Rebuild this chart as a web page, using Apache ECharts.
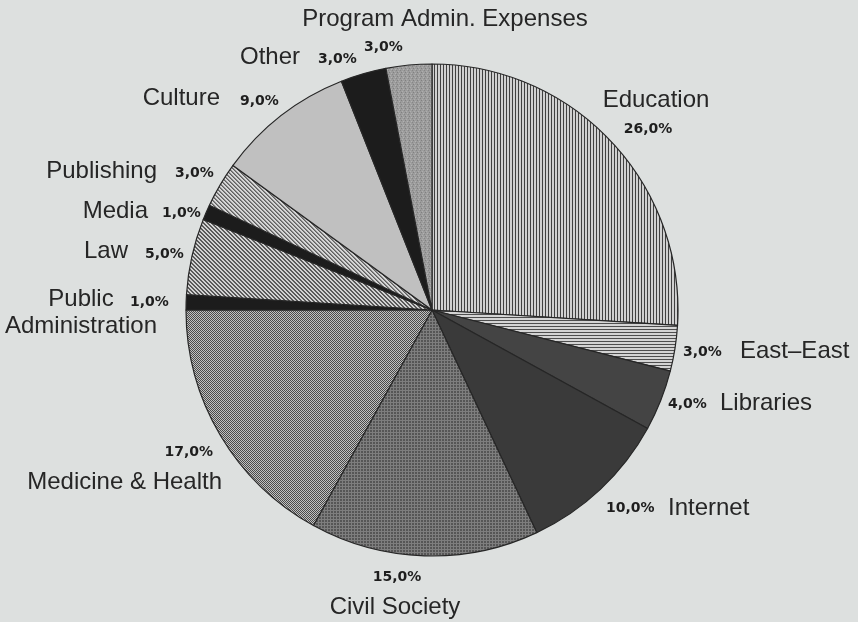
<!DOCTYPE html>
<html>
<head>
<meta charset="utf-8">
<script src="https://cdn.jsdelivr.net/npm/echarts@6/dist/echarts.min.js"></script>
<style>
html,body{margin:0;padding:0;background:#dde0df;}
#chart{width:858px;height:622px;}
</style>
</head>
<body>
<div id="chart"></div>
<script>
// ---- data ----
const categories = ['Education','East\u2013East','Libraries','Internet','Civil Society','Medicine & Health','Public\nAdministration','Law','Media','Publishing','Culture','Other','Program Admin. Expenses'];
const shares = [26, 3, 4, 10, 15, 17, 1, 5, 1, 3, 9, 3, 3];

// ---- styles ----
function pat(w, h, bg, draw) {
  const c = document.createElement('canvas');
  c.width = w; c.height = h;
  const g = c.getContext('2d');
  g.fillStyle = bg; g.fillRect(0, 0, w, h);
  draw(g);
  return { image: c, repeat: 'repeat' };
}
function px(g, col, x, y, w, h) { g.fillStyle = col; g.fillRect(x, y, w || 1, h || 1); }

const fills = [
  pat(3, 1, '#d0d0d0', g => px(g, '#404040', 2, 0)),                       // Education vertical lines
  pat(1, 3, '#d4d4d4', g => px(g, '#4e4e4e', 0, 2)),                       // East-East horizontal
  '#444444',                                                                // Libraries
  '#3a3a3a',                                                                // Internet
  pat(3, 3, '#565656', g => { px(g, '#7e7e7e', 0, 0, 3, 1); px(g, '#7e7e7e', 0, 0, 1, 3); }), // Civil Society grid
  pat(2, 2, '#c0c0c0', g => { px(g, '#4a4a4a', 0, 0); px(g, '#4a4a4a', 1, 1); }),            // Medicine dots
  '#1c1c1c',                                                                // Public admin
  pat(4, 4, '#d2d2d2', g => { for (let y = 0; y < 4; y++) { px(g, '#5a5a5a', y % 4, y); px(g, '#5a5a5a', (y + 1) % 4, y); } }), // Law
  '#1c1c1c',                                                                // Media
  pat(4, 4, '#d6d6d6', g => { for (let y = 0; y < 4; y++) { px(g, '#606060', y % 4, y); px(g, '#8a8a8a', (y + 1) % 4, y); } }), // Publishing
  '#c0c0c0',                                                                // Culture
  '#1c1c1c',                                                                // Other
  pat(4, 4, '#9c9c9c', g => { px(g, '#808080', 1, 0); px(g, '#b2b2b2', 3, 1); px(g, '#868686', 0, 2); px(g, '#aeaeae', 2, 3); }) // Program admin
];

// label anchors [x, y, align]
const namePos = [
  [656, 100, 'center'], [740, 351, 'left'], [720, 403, 'left'], [668, 508, 'left'],
  [395, 607, 'center'], [222, 482, 'right'], [81, 313, 'center'], [128, 251, 'right'],
  [148, 211, 'right'], [157, 171, 'right'], [220, 98, 'right'], [300, 57, 'right'],
  [445, 19, 'center']
];
const pctPos = [
  [648, 129, 'center'], [683, 352, 'left'], [668, 404, 'left'], [606, 508, 'left'],
  [397, 577, 'center'], [213, 452, 'right'], [130, 302, 'left'], [145, 254, 'left'],
  [162, 213, 'left'], [175, 173, 'left'], [240, 101, 'left'], [318, 59, 'left'],
  [364, 47, 'left']
];

const fmtPct = v => v.toFixed(1).replace('.', ',') + '%';

const chart = echarts.init(document.getElementById('chart'), null, { renderer: 'canvas' });

const pieBase = {
  type: 'pie',
  center: [432, 310],
  radius: 246,
  startAngle: 90,
  clockwise: true,
  animation: false,
  labelLine: { show: false },
  emphasis: { disabled: true }
};

chart.setOption({
  backgroundColor: '#dde0df',
  series: [
    Object.assign({}, pieBase, {
      name: 'slices',
      data: categories.map((c, i) => ({ name: c, value: shares[i], itemStyle: { color: fills[i] } })),
      itemStyle: { borderColor: '#262626', borderWidth: 1.2 },
      label: {
        show: true, position: 'outside', overflow: 'none',
        formatter: p => fmtPct(p.value),
        fontFamily: 'DejaVu Sans', fontWeight: 'bold', fontSize: 14, color: '#1e1e1e'
      },
      labelLayout: p => { const q = pctPos[p.dataIndex]; return { x: q[0], y: q[1], align: q[2], verticalAlign: 'middle' }; }
    }),
    Object.assign({}, pieBase, {
      name: 'names',
      silent: true,
      data: categories.map((c, i) => ({ name: c, value: shares[i] })),
      itemStyle: { color: 'rgba(0,0,0,0)', borderWidth: 0 },
      label: {
        show: true, position: 'outside', overflow: 'none',
        formatter: p => p.name,
        fontFamily: 'Liberation Sans', fontSize: 24, color: '#262626', lineHeight: 27
      },
      labelLayout: p => { const q = namePos[p.dataIndex]; return { x: q[0], y: q[1], align: q[2], verticalAlign: 'middle' }; }
    })
  ]
});
</script>
</body>
</html>
